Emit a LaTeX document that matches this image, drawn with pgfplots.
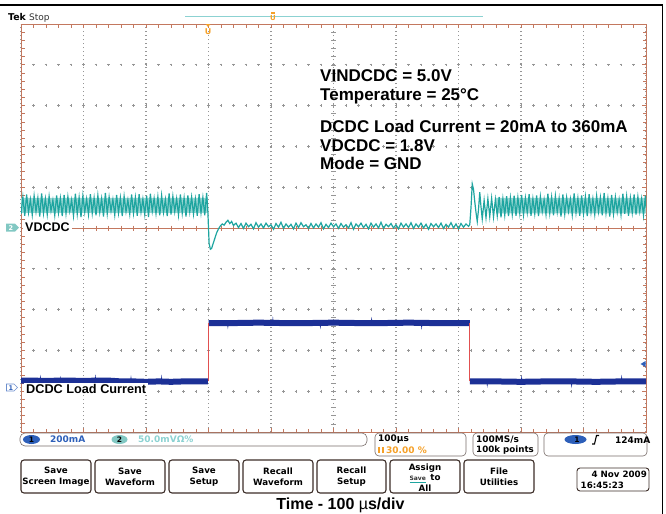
\documentclass[border=0pt]{standalone}
\usepackage{pgfplots}
\pgfplotsset{compat=1.18}
\usepackage{fontspec}
\setmainfont{Liberation Sans}
\newfontfamily\ui{DejaVu Sans}
\definecolor{teal2}{RGB}{30,165,160}
\definecolor{navy}{RGB}{28,48,150}
\definecolor{framecol}{RGB}{195,120,95}
\definecolor{gridcol}{RGB}{150,150,150}
\definecolor{uiblue}{RGB}{45,95,185}
\definecolor{uiteal}{RGB}{130,200,195}
\definecolor{uiltteal}{RGB}{140,210,210}
\definecolor{uiorange}{RGB}{245,160,40}
\definecolor{edgered}{RGB}{225,80,80}
\definecolor{btn}{RGB}{60,45,40}
\begin{document}
\begin{tikzpicture}
\path[use as bounding box] (0,0) rectangle (666bp,-514bp);
\begin{scope}[x=1bp,y=-1bp]
 \foreach \r in {1,2,3,4,6,7,8,9}
  \foreach \i in {1,...,49}
   \draw[gridcol, line width=0.8bp] ({21+12.5*\i-1.3},{432-40.8*\r}) -- ({21+12.5*\i+1.3},{432-40.8*\r})
        ({21+12.5*\i},{432-40.8*\r-1.3}) -- ({21+12.5*\i},{432-40.8*\r+1.3});
 \draw[framecol, line width=0.7bp] (21,228) -- (646,228);
 \foreach \i in {0,...,50} \draw[framecol, line width=0.6bp] ({21+12.5*\i},225.5) -- ({21+12.5*\i},230.5);
 \foreach \i in {0,...,50} \draw[gridcol, line width=0.6bp] (331,{24+8.16*\i}) -- (336,{24+8.16*\i});
\end{scope}
\begin{axis}[
 at={(21bp,-432bp)}, anchor=south west,
 scale only axis, width=625bp, height=408bp,
 xmin=0, xmax=1000, ymin=0, ymax=10,
 xtick={0,100,...,1000}, ytick={0,1,...,10},
 minor x tick num=4, minor y tick num=4,
 xticklabels={}, yticklabels={},
 tick pos=both, tick align=inside,
 major tick length=4bp, minor tick length=3.5bp,
 tick style={framecol, line width=0.7bp},
 xmajorgrids,
 major x grid style={gridcol, line width=1.2bp, dash pattern=on 1bp off 3bp},
 axis line style={framecol, line width=0.9bp},
]
% CH1 load current (blue)
\addplot[navy, line width=6bp] coordinates {(0,1.26)(20,1.26)(40,1.25)(60,1.26)(80,1.26)(100,1.25)(120,1.26)(140,1.26)(160,1.24)(180,1.24)(200,1.23)(220,1.24)(240,1.23)(260,1.24)(280,1.24)(299,1.24)};
\addplot[navy, line width=0.5bp] coordinates {(30,1.25)(31,1.36)(32,1.25)(62,1.25)(63,1.34)(64,1.25)(118,1.25)(119,1.37)(120,1.25)(175,1.25)(176,1.35)(177,1.25)(224,1.23)(225,1.36)(226,1.23)};
\addplot[navy, line width=6bp] coordinates {(300,2.67)(340,2.67)(380,2.68)(420,2.67)(460,2.67)(500,2.68)(540,2.67)(580,2.67)(620,2.68)(660,2.67)(700,2.67)(718,2.67)};
\addplot[navy, line width=0.5bp] coordinates {(330,2.67)(331,2.56)(332,2.67)(402,2.67)(403,2.79)(404,2.67)(478,2.67)(479,2.56)(480,2.67)(560,2.67)(561,2.78)(562,2.67)(640,2.67)(641,2.55)(642,2.67)};
\addplot[navy, line width=6bp] coordinates {(718,1.24)(760,1.24)(800,1.23)(840,1.24)(880,1.24)(920,1.23)(960,1.24)(1000,1.24)};
\addplot[navy, line width=0.5bp] coordinates {(745,1.24)(746,1.13)(747,1.24)(800,1.24)(801,1.35)(802,1.24)(880,1.24)(881,1.12)(882,1.24)(960,1.24)(961,1.36)(962,1.24)};
\addplot[edgered, line width=0.8bp] coordinates {(300,1.24)(300,2.67)};
\addplot[edgered, line width=0.8bp] coordinates {(718,2.67)(718,1.24)};
% CH2 VDCDC (teal): light core of the noise band
\addplot[fill=teal2!45, draw=none] coordinates {(0,5.37)(299,5.37)(299,5.74)(0,5.74)(0,5.37)};
\addplot[fill=teal2!45, draw=none] coordinates {(760,5.36)(1000,5.36)(1000,5.74)(760,5.74)(760,5.36)};
\addplot[teal2, line width=1.2bp] coordinates {
(0,5.34)(3,5.76)(6,5.30)(9,5.82)(12,5.38)(15,5.70)(18,5.32)(21,5.79)(24,5.40)(27,5.74)(30,5.28)(33,5.85)(36,5.36)(39,5.72)(42,5.33)(45,5.78)(48,5.42)(51,5.68)(54,5.31)(57,5.80)
(60,5.37)(63,5.73)(66,5.29)(69,5.81)(72,5.35)(75,5.77)(78,5.41)(81,5.69)(84,5.30)(87,5.84)(90,5.34)(93,5.75)(96,5.27)(99,5.79)(102,5.39)(105,5.71)(108,5.33)(111,5.83)(114,5.36)(117,5.74)
(120,5.31)(123,5.80)(126,5.38)(129,5.72)(132,5.28)(135,5.86)(138,5.35)(141,5.76)(144,5.42)(147,5.70)(150,5.32)(153,5.81)(156,5.37)(159,5.74)(162,5.29)(165,5.78)(168,5.40)(171,5.69)(174,5.34)(177,5.82)
(180,5.36)(183,5.75)(186,5.30)(189,5.83)(192,5.39)(195,5.71)(198,5.33)(201,5.79)(204,5.27)(207,5.84)(210,5.41)(213,5.73)(216,5.35)(219,5.77)(222,5.31)(225,5.80)(228,5.38)(231,5.70)(234,5.29)(237,5.85)
(240,5.33)(243,5.78)(246,5.40)(249,5.72)(252,5.32)(255,5.82)(258,5.36)(261,5.74)(264,5.28)(267,5.80)(270,5.39)(273,5.76)(276,5.34)(279,5.71)(282,5.30)(285,5.83)(288,5.37)(291,5.75)(294,5.31)(297,5.86)
(299,5.40)(300,5.0)(301,4.62)(303,4.48)(305,4.50)(307,4.60)(310,4.74)(313,4.88)(316,4.98)(319,5.05)(322,5.10)(325,5.07)(328,5.14)(331,5.19)(334,5.11)(337,5.16)(340,5.06)(344,5.12)
(348,5.01)(352,5.11)(356,4.99)(360,5.12)(364,5.03)(368,5.09)(372,4.98)(376,5.13)(380,5.02)(384,5.10)
(388,5.00)(392,5.12)(396,5.03)(400,5.08)(404,4.97)(408,5.11)(412,5.02)(416,5.14)(420,4.99)(424,5.10)
(428,5.02)(432,5.09)(436,4.98)(440,5.12)(444,5.01)(448,5.13)(452,5.03)(456,5.08)(460,4.99)(464,5.11)
(468,5.00)(472,5.10)(476,5.02)(480,5.13)(484,4.98)(488,5.09)(492,5.01)(496,5.12)(500,5.03)(504,5.10)
(508,4.99)(512,5.11)(516,5.02)(520,5.08)(524,5.00)(528,5.13)(532,4.97)(536,5.10)(540,5.03)(544,5.12)
(548,5.01)(552,5.09)(556,4.98)(560,5.12)(564,5.02)(568,5.10)(572,5.00)(576,5.14)(580,4.99)(584,5.09)
(588,5.03)(592,5.11)(596,5.00)(600,5.08)(604,4.98)(608,5.12)(612,5.02)(616,5.10)(620,5.01)(624,5.13)
(628,4.99)(632,5.10)(636,5.02)(640,5.12)(644,5.00)(648,5.09)(652,4.97)(656,5.11)(660,5.03)(664,5.10)
(668,5.01)(672,5.12)(676,4.99)(680,5.09)(684,5.02)(688,5.13)(692,5.00)(696,5.10)(700,4.98)(704,5.11)
(708,5.02)(712,5.10)(716,5.04)
(718,5.08)(720,5.50)(722,6.08)(724,5.95)(726,5.65)(728,5.38)(730,5.16)(732,5.45)(734,5.88)(736,5.52)(738,5.22)(741,5.68)(744,5.25)(747,5.72)(750,5.28)
(753,5.73)(756,5.27)(759,5.70)(762,5.30)(765,5.76)(768,5.26)(771,5.72)(774,5.31)(777,5.78)(780,5.29)(783,5.74)(786,5.33)(789,5.79)(792,5.30)(795,5.75)(798,5.36)
(801,5.81)(804,5.32)(807,5.74)(810,5.38)(813,5.83)(816,5.30)(819,5.72)(822,5.35)(825,5.80)(828,5.29)(831,5.77)(834,5.40)(837,5.70)(840,5.33)(843,5.84)(846,5.36)(849,5.76)(852,5.31)(855,5.79)(858,5.39)
(861,5.73)(864,5.28)(867,5.82)(870,5.34)(873,5.75)(876,5.41)(879,5.71)(882,5.32)(885,5.85)(888,5.37)(891,5.74)(894,5.30)(897,5.80)(900,5.35)(903,5.77)(906,5.29)(909,5.83)(912,5.38)(915,5.72)(918,5.33)
(921,5.79)(924,5.40)(927,5.75)(930,5.31)(933,5.86)(936,5.36)(939,5.73)(942,5.28)(945,5.81)(948,5.34)(951,5.76)(954,5.39)(957,5.70)(960,5.32)(963,5.84)(966,5.35)(969,5.78)(972,5.30)(975,5.74)(978,5.37)
(981,5.82)(984,5.33)(987,5.77)(990,5.40)(993,5.72)(996,5.31)(999,5.80)(1000,5.50)};
\end{axis}
\begin{scope}[x=1bp,y=-1bp]
 % outer frame
 \draw[black, line width=1.2bp] (0,5) -- (662.5,5) -- (662.5,514);
 % top status
 \node[anchor=base west, inner sep=0, font=\ui\bfseries\fontsize{9.4bp}{10bp}\selectfont] at (8,20.5) {Tek};
 \node[anchor=base west, inner sep=0, font=\ui\fontsize{9bp}{10bp}\selectfont, text=black!80] at (29,20.5) {Stop};
 \draw[uiltteal, line width=0.8bp] (185,16.5) -- (483,16.5);
 \node[inner sep=0, text=uiorange, font=\ui\bfseries\fontsize{7bp}{7bp}\selectfont] at (273,18) {U};
 \fill[uiorange] (271,12) rectangle (275,13.5);
 \fill[uiorange] (205.5,24) -- (210.5,24) -- (208,27) -- cycle;
 \node[inner sep=0, text=uiorange, font=\ui\bfseries\fontsize{8bp}{8bp}\selectfont] at (208,31.5) {U};
 % annotations
 \begin{scope}[every node/.style={anchor=base west, inner sep=0, font=\bfseries\fontsize{17bp}{20bp}\selectfont}]
  \node at (320,81.5) {VINDCDC = 5.0V};
  \node at (320,100) {Temperature = 25°C};
  \node at (320,132) {DCDC Load Current = 20mA to 360mA};
  \node at (320,151) {VDCDC = 1.8V};
  \node at (320,169.5) {Mode = GND};
 \end{scope}
 % channel labels
 \node[fill=white, inner xsep=2bp, inner ysep=1.5bp, anchor=base west, font=\bfseries\fontsize{12.5bp}{14bp}\selectfont] at (23,231.5) {VDCDC};
 \node[fill=white, inner xsep=2bp, inner ysep=1.2bp, anchor=base west, font=\bfseries\fontsize{12.7bp}{14bp}\selectfont] at (24,393) {DCDC Load Current};
 \fill[uiteal] (6,223.5) -- (15,223.5) -- (19,227.5) -- (15,231.5) -- (6,231.5) -- cycle;
 \node[inner sep=0, text=white, font=\ui\bfseries\fontsize{6.5bp}{7bp}\selectfont] at (11,227.8) {2};
 \draw[uiblue!70, line width=0.6bp] (6.5,384) -- (14,384) -- (17.5,387.5) -- (14,391) -- (6.5,391) -- cycle;
 \node[inner sep=0, text=uiblue, font=\ui\bfseries\fontsize{6.5bp}{7bp}\selectfont] at (11,387.8) {1};
 \fill[uiblue] (640.5,364) -- (645.5,361) -- (645.5,367) -- cycle;
 % status bar
 \begin{scope}[every node/.style={inner sep=0, font=\ui\bfseries\fontsize{9bp}{10bp}\selectfont}]
  \draw[btn!70, line width=0.6bp, rounded corners=5bp] (20,433) rectangle (367,446);
  \fill[uiblue] (31.5,439.5) ellipse [x radius=8.5bp, y radius=4.5bp];
  \node[text=black, font=\ui\bfseries\fontsize{7.5bp}{8bp}\selectfont] at (31.5,439.7) {1};
  \node[anchor=west, text=uiblue] at (50,439.7) {200mA};
  \fill[uiteal] (119.5,439.5) ellipse [x radius=8bp, y radius=4.5bp];
  \node[text=black, font=\ui\bfseries\fontsize{7.5bp}{8bp}\selectfont] at (119.5,439.7) {2};
  \node[anchor=west, text=uiltteal] at (138,439.7) {50.0mVΩ\%};
  \draw[btn!70, line width=0.6bp, rounded corners=4bp] (375,433) rectangle (466,456);
  \node[anchor=west] at (378,439.5) {100µs};
  \fill[uiorange] (378,446.5) rectangle (380,452.5);
  \fill[uiorange] (381.5,446.5) rectangle (383.5,452.5);
  \node[anchor=west, text=uiorange] at (386,450) {30.00 \%};
  \draw[btn!70, line width=0.6bp, rounded corners=4bp] (473,433) rectangle (538,456);
  \node[anchor=west] at (476,439.5) {100MS/s};
  \node[anchor=west, font=\ui\bfseries\fontsize{8.7bp}{10bp}\selectfont] at (476,450) {100k points};
  \draw[btn!70, line width=0.6bp, rounded corners=4bp] (544,433) rectangle (647,456);
  \fill[uiblue] (575.5,439.5) ellipse [x radius=11bp, y radius=4.5bp];
  \node[text=black, font=\ui\bfseries\fontsize{7.5bp}{8bp}\selectfont] at (577,439.7) {1};
  \draw[black, line width=1.1bp] (592,444) -- (594.5,444) -- (596.5,435.5) -- (599,435.5);
  \node[anchor=west] at (615,439.7) {124mA};
 \end{scope}
 % buttons
 \begin{scope}[every node/.style={inner sep=0, align=center, font=\ui\bfseries\fontsize{8.7bp}{11bp}\selectfont}]
  \foreach \a/\b in {21/91,95/165,169/239,243/313,317/386,390/460,464/534}
    \draw[btn, line width=1.1bp, rounded corners=3bp] (\a,460) rectangle (\b,493);
  \node at (56,477) {Save\\Screen Image};
  \node at (130,477) {Save\\Waveform};
  \node at (204,477) {Save\\Setup};
  \node at (278,477) {Recall\\Waveform};
  \node at (351.5,477) {Recall\\Setup};
  \node[font=\ui\bfseries\fontsize{8.7bp}{10.8bp}\selectfont] at (425,477.5) {Assign\\{\fontsize{6bp}{6bp}\selectfont\color{teal2}\underline{\color{black!80}Save}}\, to\\All};
  \node at (499,477) {File\\Utilities};
  \draw[btn, line width=0.9bp, rounded corners=3bp] (577,468) rectangle (649,491);
  \node[anchor=base east] at (647,477) {4 Nov 2009};
  \node[anchor=base west] at (580.5,488) {16:45:23};
 \end{scope}
 % caption
 \node[anchor=base, inner sep=0, font=\bfseries\fontsize{16bp}{18bp}\selectfont] at (340.5,509) {Time - 100 {\mdseries µ}s/div};
\end{scope}
\end{tikzpicture}
\end{document}
